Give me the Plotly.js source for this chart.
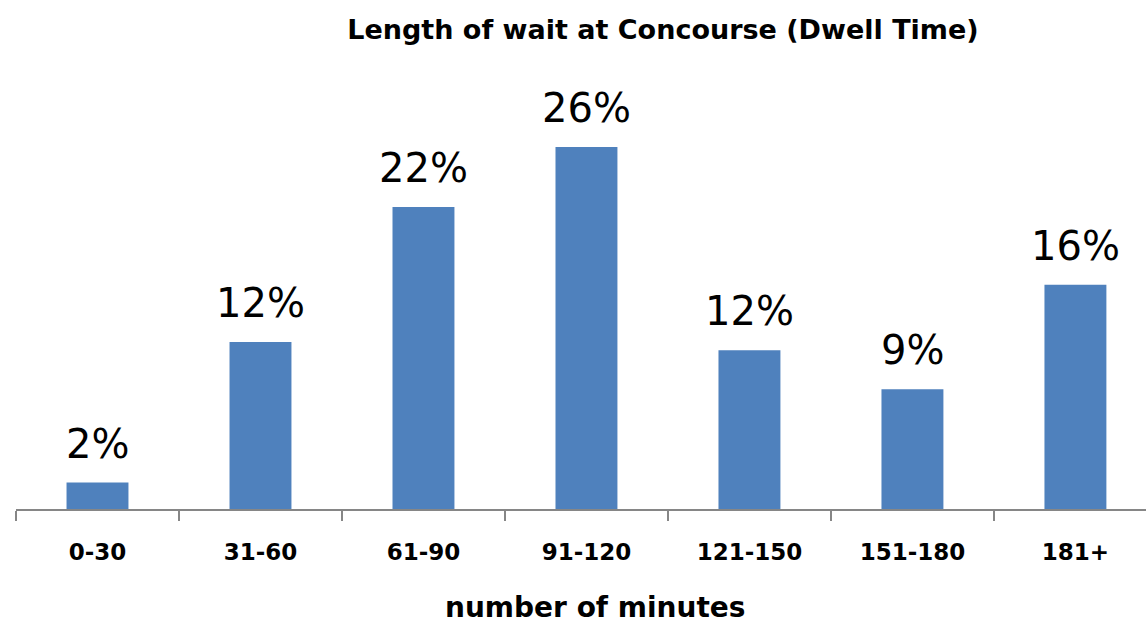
<!DOCTYPE html>
<html>
<head>
<meta charset="utf-8">
<script src="https://cdn.plot.ly/plotly-3.0.1.min.js"></script>
<style>html,body{margin:0;padding:0;background:#fff}#chart{width:1146px;height:626px}</style>
</head>
<body>
<div id="chart"></div>
<script>
const categories = ["0-30", "31-60", "61-90", "91-120", "121-150", "151-180", "181+"];
const values = [1.9, 12.0, 21.7, 26.0, 11.4, 8.6, 16.1];
const labels = ["2%", "12%", "22%", "26%", "12%", "9%", "16%"];
const chartTitle = "Length of wait at Concourse (Dwell Time)";
const xTitle = "number of minutes";

const trace = {
  type: "bar",
  x: categories,
  y: values,
  marker: {color: "#4F81BD"},
  hoverinfo: "skip"
};

const annotations = categories.map((c, i) => ({
  x: c, y: values[i], xref: "x", yref: "y",
  text: labels[i], showarrow: false,
  yanchor: "middle", yshift: 39,
  font: {family: "DejaVu Sans", size: 40, color: "#000"}
}));
annotations.push({
  x: 0.512, y: -0.242, xref: "paper", yref: "paper",
  text: "<b>" + xTitle + "</b>", showarrow: false,
  xanchor: "center", yanchor: "middle",
  font: {family: "DejaVu Sans", size: 28, color: "#000"}
});

const layout = {
  width: 1146, height: 626,
  margin: {l: 16, r: 0, t: 100, b: 117},
  paper_bgcolor: "#fff", plot_bgcolor: "#fff",
  showlegend: false,
  bargap: 0.62,
  title: {
    text: "<b>" + chartTitle + "</b>",
    x: 0.5785, xref: "container", xanchor: "center",
    y: 0.952, yref: "container", yanchor: "middle",
    font: {family: "DejaVu Sans", size: 27, color: "#000"}
  },
  xaxis: {
    type: "category",
    range: [-0.5, 6.433],
    showline: true, linecolor: "#868686", linewidth: 2,
    ticks: "outside", tickson: "boundaries", ticklen: 10, tickwidth: 2, tickcolor: "#868686",
    ticklabelstandoff: 21,
    tickfont: {family: "DejaVu Sans", size: 23, color: "#000", weight: "bold"},
    showgrid: false, zeroline: false, fixedrange: true
  },
  yaxis: {
    range: [0, 29.38],
    visible: false, showgrid: false, zeroline: false, fixedrange: true
  },
  annotations: annotations
};

Plotly.newPlot("chart", [trace], layout, {displayModeBar: false, staticPlot: true});
</script>
</body>
</html>
